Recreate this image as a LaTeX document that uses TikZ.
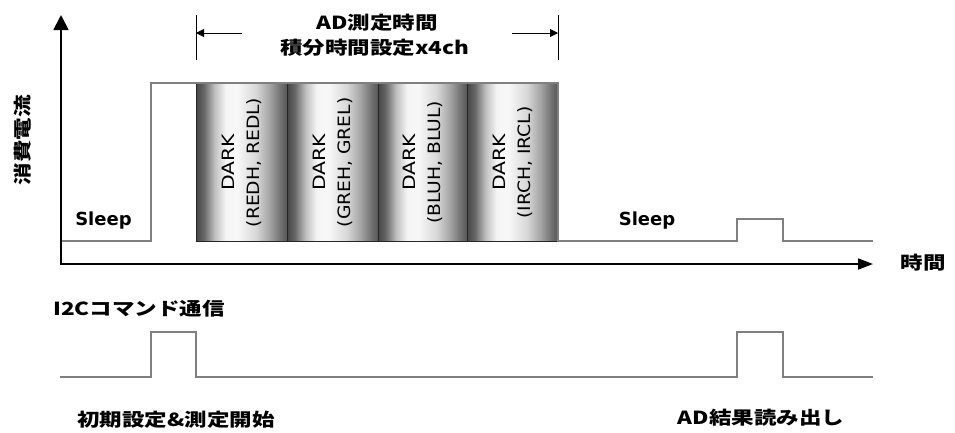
\documentclass[tikz,border=0pt]{standalone}
\usepackage{fontspec}
\setmainfont{DejaVu Sans}
\newfontfamily\jpf{Noto Sans CJK JP}
\usetikzlibrary{arrows.meta}
\definecolor{wavegray}{gray}{0.5}
\definecolor{cyA}{gray}{0.28}
\definecolor{cyB}{gray}{0.40}
\definecolor{cyC}{gray}{0.75}
\definecolor{cyD}{gray}{0.96}
\definecolor{cyE}{gray}{0.97}
\definecolor{cyF}{gray}{0.85}
\definecolor{cyG}{gray}{0.65}
\definecolor{cyH}{gray}{0.45}
\definecolor{cyI}{gray}{0.33}
\pgfdeclarehorizontalshading{cyl}{100bp}{color(0bp)=(cyA); color(25bp)=(cyA); color(29bp)=(cyB); color(35bp)=(cyC); color(41bp)=(cyD); color(47.5bp)=(cyE); color(57.5bp)=(cyF); color(65bp)=(cyG); color(71bp)=(cyH); color(75bp)=(cyI); color(100bp)=(cyI)}
\newcommand{\jtxt}[1]{\scalebox{1.25}[1]{#1}}
\newcommand{\sxa}[1]{\scalebox{1.2}[1]{#1}}
\newcommand{\sxb}[1]{\scalebox{1.1}[1]{#1}}
\begin{document}
\begin{tikzpicture}[x=1pt,y=-1pt,
  wave/.style={draw=wavegray, line width=1.3pt},
  axisline/.style={line width=1.8pt},
  barbox/.style={shade, shading=cyl, draw=black!85, line width=0.9pt, minimum width=#1, minimum height=158pt, inner sep=0pt, anchor=north west},
  bartext/.style={rotate=90, align=center, inner sep=0pt, font=\fontsize{17}{25}\selectfont},
  jlabel/.style={font=\jpf\bfseries\fontsize{18}{20}\selectfont, inner sep=0pt},
  sleeplabel/.style={font=\bfseries\fontsize{18}{20}\selectfont, inner sep=0pt, anchor=base},
  dimtick/.style={draw=black, line width=0.9pt},
  dimarrow/.style={draw=black, line width=0.9pt, -{Triangle[width=8pt,length=8pt]}}
]
\useasboundingbox[fill=white] (0,0) rectangle (955,432);

% bars
\node[barbox=91pt] (b1) at (196,83) {};
\node[barbox=91pt] (b2) at (287,83) {};
\node[barbox=89pt] (b3) at (378,83) {};
\node[barbox=91pt] (b4) at (467,83) {};
\node[bartext] (t1) at (b1.center) {\sxa{DARK}\\\sxb{(REDH, REDL)}};
\node[bartext] (t2) at (b2.center) {\sxa{DARK}\\\sxb{(GREH, GREL)}};
\node[bartext] (t3) at (b3.center) {\sxa{DARK}\\\sxb{(BLUH, BLUL)}};
\node[bartext] (t4) at (b4.center) {\sxa{DARK}\\\sxb{(IRCH, IRCL)}};

% current waveform
\draw[wave] (61,241) -- (151,241) -- (151,83) -- (558,83) -- (558,241) -- (737,241) -- (737,219) -- (783,219) -- (783,241) -- (873,241);

% I2C waveform
\draw[wave] (60,377) -- (151,377) -- (151,332) -- (196,332) -- (196,377) -- (737,377) -- (737,332) -- (783,332) -- (783,377) -- (873,377);

% axes
\coordinate (O) at (61,264);
\coordinate (ytip) at (61,15);
\coordinate (xtip) at (873,264);
\draw[axisline, {Triangle[width=15pt,length=15pt]}-{Triangle[width=11pt,length=15pt]}] (ytip) -- (O) -- (xtip);

% dimension
\coordinate (tlt) at (196,15);
\coordinate (tlb) at (196,60);
\coordinate (trt) at (558,15);
\coordinate (trb) at (558,60);
\coordinate (dl) at (196,33);
\coordinate (dr) at (558,33);
\coordinate (dla) at (242,33);
\coordinate (dra) at (512,33);
\draw[dimtick] (tlt) -- (tlb);
\draw[dimtick] (trt) -- (trb);
\draw[dimarrow] (dla) -- (dl);
\draw[dimarrow] (dra) -- (dr);

% labels
\node[jlabel] (adt) at (377,23) {\jtxt{AD測定時間}};
\node[jlabel] (sek) at (375,48) {\jtxt{積分時間設定x4ch}};
\node[jlabel, rotate=90] (ylab) at (23,140) {\jtxt{消費電流}};
\node[jlabel] (xlab) at (923,263) {\jtxt{時間}};
\node[sleeplabel] (s1) at (103.5,225) {Sleep};
\node[sleeplabel] (s2) at (647,225) {Sleep};
\node[jlabel] (i2c) at (139,309) {\jtxt{I2Cコマンド通信}};
\node[jlabel] (init) at (176,419.5) {\jtxt{初期設定\&測定開始}};
\node[jlabel] (read) at (761,418) {\jtxt{AD結果読み出し}};
\end{tikzpicture}
\end{document}
